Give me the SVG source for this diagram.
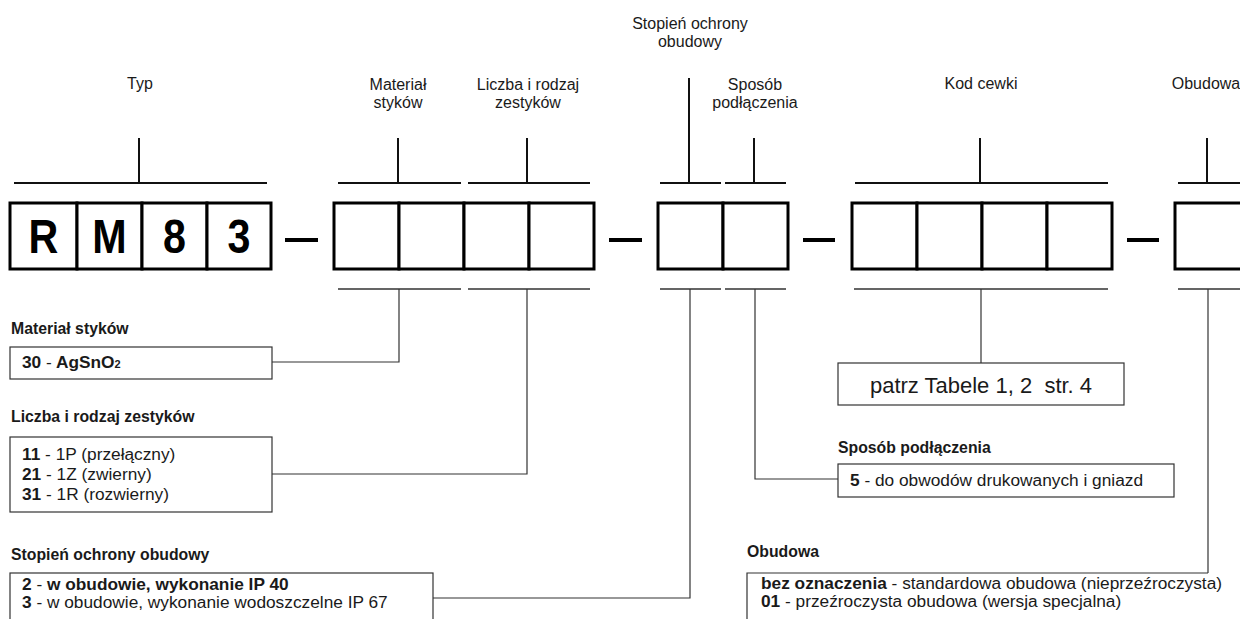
<svg xmlns="http://www.w3.org/2000/svg" width="1240" height="619" viewBox="0 0 1240 619">
<style>
text{font-family:"Liberation Sans",Arial,sans-serif;fill:#1a1a1a}
.top{font-size:16px;text-anchor:middle}
.lbl{font-size:15.8px;font-weight:bold}
.item{font-size:17.3px}
.b{font-weight:bold}
.big{font-size:48px;font-weight:bold;text-anchor:middle;fill:#000}
.cell{fill:#fff;stroke:#000;stroke-width:3}
.br1{stroke:#111;stroke-width:2;fill:none}
.br2{stroke:#333;stroke-width:1.5;fill:none}
.con{stroke:#333;stroke-width:1.2;fill:none}
.lbox{fill:#fff;stroke:#333;stroke-width:1.2}
.dash{stroke:#000;stroke-width:4}
</style>
<rect width="1240" height="619" fill="#fff"/>

<g id="connectors">
  <path class="br1" d="M14,183H267M139,183V138"/>
  <path class="br1" d="M338,183H461M398,183V138"/>
  <path class="br1" d="M468,183H590M527,183V138"/>
  <path class="br1" d="M660,183H721M689,183V78"/>
  <path class="br1" d="M725,183H786M754,183V138"/>
  <path class="br1" d="M855,183H1108M980,183V138"/>
  <path class="br1" d="M1178,183H1242M1207,183V138"/>
  <path class="br2" d="M338,289H461M468,289H590M660,289H721M725,289H786M854,289H1108M1178,289H1242"/>
  <path class="con" d="M272,362H399V289"/>
  <path class="con" d="M272,474H527V289"/>
  <path class="con" d="M433,598H690V289"/>
  <path class="con" d="M981,289V363"/>
  <path class="con" d="M755,289V479H838"/>
  <path class="con" d="M1208,289V573"/>
  <path class="dash" d="M285,240H318M609,240H642M803,240H835M1127,240H1159"/>
</g>

<g id="labels-top">
  <text class="top" x="140" y="89">Typ</text>
  <text class="top" x="398" y="90">Materiał</text>
  <text class="top" x="398" y="108">styków</text>
  <text class="top" x="528" y="90">Liczba i rodzaj</text>
  <text class="top" x="528" y="108">zestyków</text>
  <text class="top" x="690" y="29">Stopień ochrony</text>
  <text class="top" x="690" y="47">obudowy</text>
  <text class="top" x="755" y="90">Sposób</text>
  <text class="top" x="755" y="108">podłączenia</text>
  <text class="top" x="981" y="89">Kod cewki</text>
  <text class="top" x="1206" y="89">Obudowa</text>
</g>

<g id="code-typ">
  <rect class="cell" x="10" y="203" width="67" height="66"/>
  <rect class="cell" x="77" y="203" width="65" height="66"/>
  <rect class="cell" x="142" y="203" width="65" height="66"/>
  <rect class="cell" x="207" y="203" width="64" height="66"/>
  <text class="big" transform="translate(43.5,253) scale(0.86,1)">R</text>
  <text class="big" transform="translate(109.5,253) scale(0.86,1)">M</text>
  <text class="big" transform="translate(174.5,253) scale(0.86,1)">8</text>
  <text class="big" transform="translate(239,253) scale(0.86,1)">3</text>
</g>
<g id="code-material-liczba">
  <rect class="cell" x="334" y="203" width="65" height="66"/>
  <rect class="cell" x="399" y="203" width="65" height="66"/>
  <rect class="cell" x="464" y="203" width="65" height="66"/>
  <rect class="cell" x="529" y="203" width="65" height="66"/>
</g>
<g id="code-stopien-sposob">
  <rect class="cell" x="658" y="203" width="65" height="66"/>
  <rect class="cell" x="723" y="203" width="65" height="66"/>
</g>
<g id="code-kod">
  <rect class="cell" x="852" y="203" width="65" height="66"/>
  <rect class="cell" x="917" y="203" width="65" height="66"/>
  <rect class="cell" x="982" y="203" width="65" height="66"/>
  <rect class="cell" x="1047" y="203" width="65" height="66"/>
</g>
<g id="code-obudowa">
  <rect class="cell" x="1175" y="203" width="68" height="66"/>
</g>

<g id="legend-material">
  <text class="lbl" x="11" y="334">Materiał styków</text>
  <rect class="lbox" x="10" y="347" width="262" height="32"/>
  <text class="item b" x="22" y="368">30 <tspan font-weight="normal">-</tspan> AgSnO<tspan font-size="11px">2</tspan></text>
</g>

<g id="legend-liczba">
  <text class="lbl" x="11" y="422">Liczba i rodzaj zestyków</text>
  <rect class="lbox" x="10" y="437" width="262" height="75"/>
  <text class="item" x="22" y="460"><tspan class="b">11</tspan> - 1P (przełączny)</text>
  <text class="item" x="22" y="480"><tspan class="b">21</tspan> - 1Z (zwierny)</text>
  <text class="item" x="22" y="500"><tspan class="b">31</tspan> - 1R (rozwierny)</text>
</g>

<g id="legend-stopien">
  <text class="lbl" x="11" y="560">Stopień ochrony obudowy</text>
  <rect class="lbox" x="10" y="573" width="423" height="60"/>
  <text class="item" x="22" y="590"><tspan class="b">2</tspan> - <tspan class="b">w obudowie, wykonanie IP 40</tspan></text>
  <text class="item" x="22" y="608"><tspan class="b">3</tspan> - w obudowie, wykonanie wodoszczelne IP 67</text>
</g>

<g id="legend-kod">
  <rect class="lbox" x="838" y="363" width="286" height="42"/>
  <text x="981" y="393" font-size="22px" text-anchor="middle" xml:space="preserve">patrz Tabele 1, 2  str. 4</text>
</g>

<g id="legend-sposob">
  <text class="lbl" x="838" y="453">Sposób podłączenia</text>
  <rect class="lbox" x="838" y="464" width="336" height="33"/>
  <text class="item" x="850" y="486"><tspan class="b">5</tspan> - do obwodów drukowanych i gniazd</text>
</g>

<g id="legend-obudowa">
  <text class="lbl" x="747" y="557">Obudowa</text>
  <path class="con" d="M1208,573H747V625"/>
  <text class="item" x="761" y="589"><tspan class="b">bez oznaczenia</tspan> - standardowa obudowa (nieprzeźroczysta)</text>
  <text class="item" x="761" y="607"><tspan class="b">01</tspan> - przeźroczysta obudowa (wersja specjalna)</text>
</g>
</svg>
